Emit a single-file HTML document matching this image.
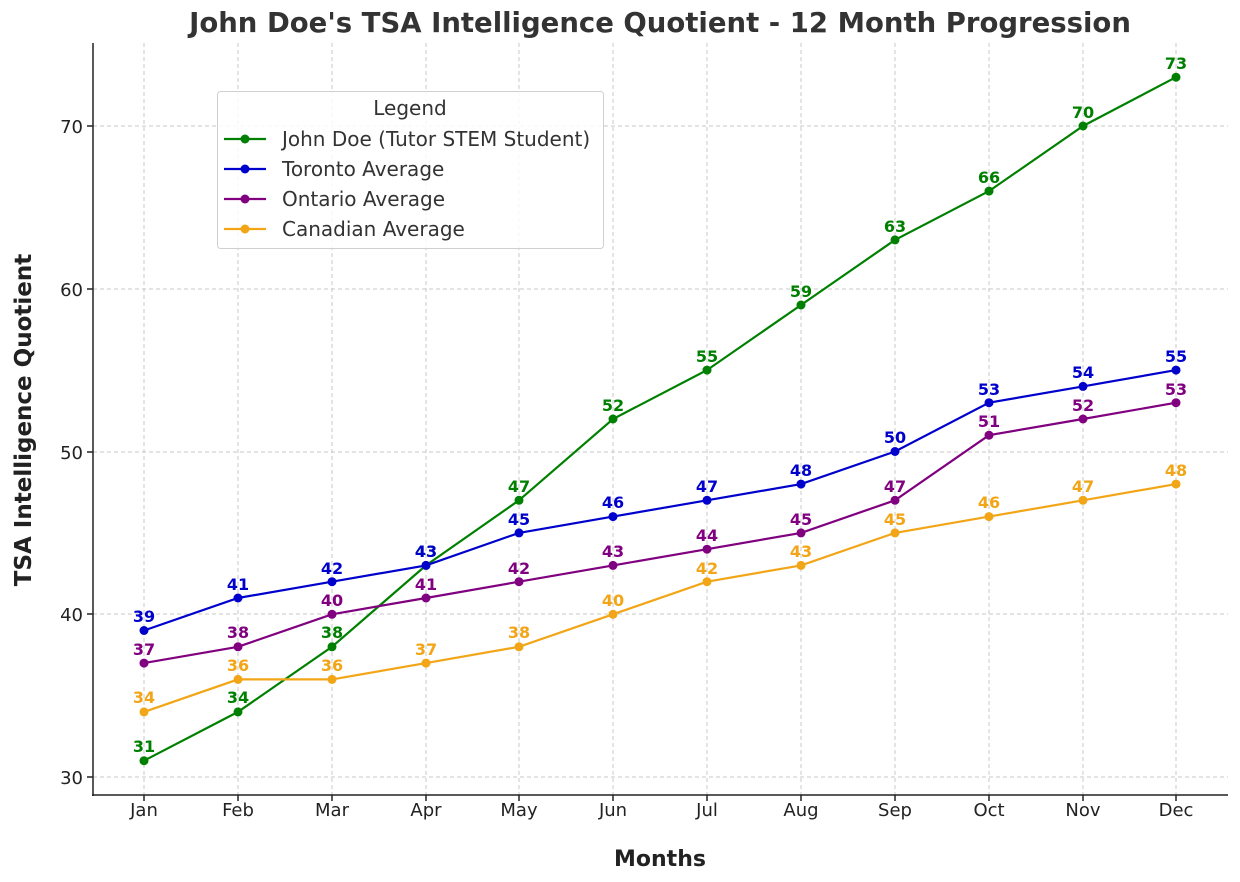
<!DOCTYPE html>
<html><head><meta charset="utf-8"><style>
html,body{margin:0;padding:0;background:#fff;}
svg{display:block;font-family:"DejaVu Sans","Liberation Sans",sans-serif;}
.t{font-size:18px;fill:#222;}
.g{stroke:#c8c8c8;stroke-width:1;stroke-dasharray:4,3;}
.lb{font-size:16px;font-weight:bold;text-anchor:middle;}
</style></head><body>
<svg width="1240" height="882" viewBox="0 0 1240 882">
<g class="g">
<line x1="144" y1="43" x2="144" y2="795"/><line x1="238" y1="43" x2="238" y2="795"/><line x1="332" y1="43" x2="332" y2="795"/><line x1="426" y1="43" x2="426" y2="795"/><line x1="519" y1="43" x2="519" y2="795"/><line x1="613" y1="43" x2="613" y2="795"/><line x1="707" y1="43" x2="707" y2="795"/><line x1="801" y1="43" x2="801" y2="795"/><line x1="895" y1="43" x2="895" y2="795"/><line x1="989" y1="43" x2="989" y2="795"/><line x1="1083" y1="43" x2="1083" y2="795"/><line x1="1176" y1="43" x2="1176" y2="795"/>
<line x1="93" y1="777" x2="1228" y2="777"/><line x1="93" y1="614" x2="1228" y2="614"/><line x1="93" y1="452" x2="1228" y2="452"/><line x1="93" y1="289" x2="1228" y2="289"/><line x1="93" y1="126" x2="1228" y2="126"/>
</g>
<line x1="93" y1="43" x2="93" y2="796" stroke="#222" stroke-width="1.5"/>
<line x1="92" y1="795" x2="1228" y2="795" stroke="#222" stroke-width="1.5"/>
<g stroke="#222" stroke-width="1.5">
<line x1="87" y1="777" x2="93" y2="777"/><line x1="87" y1="614" x2="93" y2="614"/><line x1="87" y1="452" x2="93" y2="452"/><line x1="87" y1="289" x2="93" y2="289"/><line x1="87" y1="126" x2="93" y2="126"/>
<line x1="144" y1="795" x2="144" y2="801"/><line x1="238" y1="795" x2="238" y2="801"/><line x1="332" y1="795" x2="332" y2="801"/><line x1="426" y1="795" x2="426" y2="801"/><line x1="519" y1="795" x2="519" y2="801"/><line x1="613" y1="795" x2="613" y2="801"/><line x1="707" y1="795" x2="707" y2="801"/><line x1="801" y1="795" x2="801" y2="801"/><line x1="895" y1="795" x2="895" y2="801"/><line x1="989" y1="795" x2="989" y2="801"/><line x1="1083" y1="795" x2="1083" y2="801"/><line x1="1176" y1="795" x2="1176" y2="801"/>
</g>
<g class="t" text-anchor="end">
<text x="83" y="784">30</text><text x="83" y="621">40</text><text x="83" y="459">50</text><text x="83" y="296">60</text><text x="83" y="133">70</text>
</g>
<g class="t" text-anchor="middle">
<text x="144" y="816">Jan</text><text x="238" y="816">Feb</text><text x="332" y="816">Mar</text><text x="426" y="816">Apr</text><text x="519" y="816">May</text><text x="613" y="816">Jun</text><text x="707" y="816">Jul</text><text x="801" y="816">Aug</text><text x="895" y="816">Sep</text><text x="989" y="816">Oct</text><text x="1083" y="816">Nov</text><text x="1176" y="816">Dec</text>
</g>
<text x="660" y="32" text-anchor="middle" font-size="27.5" font-weight="bold" fill="#333">John Doe's TSA Intelligence Quotient - 12 Month Progression</text>
<text x="660" y="866" text-anchor="middle" font-size="22" font-weight="bold" fill="#222">Months</text>
<text transform="translate(31,420) rotate(-90)" text-anchor="middle" font-size="23" font-weight="bold" fill="#222">TSA Intelligence Quotient</text>

<g fill="none" stroke-width="2.2">
<polyline stroke="#008000" points="144,760.7 238,711.9 332,646.8 426,565.4 519,500.3 613,419 707,370.1 801,305 895,239.9 989,191.1 1083,126 1176,77.2"/>
<polyline stroke="#0000cd" points="144,630.5 238,598 332,581.7 426,565.4 519,532.9 613,516.6 707,500.3 801,484.1 895,451.5 989,402.7 1083,386.4 1176,370.1"/>
<polyline stroke="#800080" points="144,663.1 238,646.8 332,614.3 426,598 519,581.7 613,565.4 707,549.2 801,532.9 895,500.3 989,435.2 1083,419 1176,402.7"/>
<polyline stroke="#f2a516" points="144,711.9 238,679.4 332,679.4 426,663.1 519,646.8 613,614.3 707,581.7 801,565.4 895,532.9 989,516.6 1083,500.3 1176,484.1"/>
</g>
<g fill="#008000"><circle cx="144" cy="760.7" r="4.5"/><circle cx="238" cy="711.9" r="4.5"/><circle cx="332" cy="646.8" r="4.5"/><circle cx="426" cy="565.4" r="4.5"/><circle cx="519" cy="500.3" r="4.5"/><circle cx="613" cy="419" r="4.5"/><circle cx="707" cy="370.1" r="4.5"/><circle cx="801" cy="305" r="4.5"/><circle cx="895" cy="239.9" r="4.5"/><circle cx="989" cy="191.1" r="4.5"/><circle cx="1083" cy="126" r="4.5"/><circle cx="1176" cy="77.2" r="4.5"/></g>
<g fill="#0000cd"><circle cx="144" cy="630.5" r="4.5"/><circle cx="238" cy="598" r="4.5"/><circle cx="332" cy="581.7" r="4.5"/><circle cx="426" cy="565.4" r="4.5"/><circle cx="519" cy="532.9" r="4.5"/><circle cx="613" cy="516.6" r="4.5"/><circle cx="707" cy="500.3" r="4.5"/><circle cx="801" cy="484.1" r="4.5"/><circle cx="895" cy="451.5" r="4.5"/><circle cx="989" cy="402.7" r="4.5"/><circle cx="1083" cy="386.4" r="4.5"/><circle cx="1176" cy="370.1" r="4.5"/></g>
<g fill="#800080"><circle cx="144" cy="663.1" r="4.5"/><circle cx="238" cy="646.8" r="4.5"/><circle cx="332" cy="614.3" r="4.5"/><circle cx="426" cy="598" r="4.5"/><circle cx="519" cy="581.7" r="4.5"/><circle cx="613" cy="565.4" r="4.5"/><circle cx="707" cy="549.2" r="4.5"/><circle cx="801" cy="532.9" r="4.5"/><circle cx="895" cy="500.3" r="4.5"/><circle cx="989" cy="435.2" r="4.5"/><circle cx="1083" cy="419" r="4.5"/><circle cx="1176" cy="402.7" r="4.5"/></g>
<g fill="#f2a516"><circle cx="144" cy="711.9" r="4.5"/><circle cx="238" cy="679.4" r="4.5"/><circle cx="332" cy="679.4" r="4.5"/><circle cx="426" cy="663.1" r="4.5"/><circle cx="519" cy="646.8" r="4.5"/><circle cx="613" cy="614.3" r="4.5"/><circle cx="707" cy="581.7" r="4.5"/><circle cx="801" cy="565.4" r="4.5"/><circle cx="895" cy="532.9" r="4.5"/><circle cx="989" cy="516.6" r="4.5"/><circle cx="1083" cy="500.3" r="4.5"/><circle cx="1176" cy="484.1" r="4.5"/></g>

<g class="lb" fill="#008000"><text x="144" y="752">31</text><text x="238" y="703">34</text><text x="332" y="638">38</text><text x="426" y="557">43</text><text x="519" y="492">47</text><text x="613" y="411">52</text><text x="707" y="362">55</text><text x="801" y="297">59</text><text x="895" y="232">63</text><text x="989" y="183">66</text><text x="1083" y="118">70</text><text x="1176" y="69">73</text></g>
<g class="lb" fill="#0000cd"><text x="144" y="622">39</text><text x="238" y="590">41</text><text x="332" y="574">42</text><text x="426" y="557">43</text><text x="519" y="525">45</text><text x="613" y="508">46</text><text x="707" y="492">47</text><text x="801" y="476">48</text><text x="895" y="443">50</text><text x="989" y="395">53</text><text x="1083" y="378">54</text><text x="1176" y="362">55</text></g>
<g class="lb" fill="#800080"><text x="144" y="655">37</text><text x="238" y="638">38</text><text x="332" y="606">40</text><text x="426" y="590">41</text><text x="519" y="574">42</text><text x="613" y="557">43</text><text x="707" y="541">44</text><text x="801" y="525">45</text><text x="895" y="492">47</text><text x="989" y="427">51</text><text x="1083" y="411">52</text><text x="1176" y="395">53</text></g>
<g class="lb" fill="#f2a516"><text x="144" y="703">34</text><text x="238" y="671">36</text><text x="332" y="671">36</text><text x="426" y="655">37</text><text x="519" y="638">38</text><text x="613" y="606">40</text><text x="707" y="574">42</text><text x="801" y="557">43</text><text x="895" y="525">45</text><text x="989" y="508">46</text><text x="1083" y="492">47</text><text x="1176" y="476">48</text></g>

<rect x="217.5" y="91.5" width="386" height="157" rx="3" fill="#fff" fill-opacity="0.85" stroke="#d0d0d0"/>
<text x="410" y="115" text-anchor="middle" font-size="20" fill="#333">Legend</text>
<g stroke-width="2.2">
<line x1="224" y1="139" x2="266" y2="139" stroke="#008000"/><circle cx="245" cy="139" r="4.5" fill="#008000"/>
<line x1="224" y1="169" x2="266" y2="169" stroke="#0000cd"/><circle cx="245" cy="169" r="4.5" fill="#0000cd"/>
<line x1="224" y1="199" x2="266" y2="199" stroke="#800080"/><circle cx="245" cy="199" r="4.5" fill="#800080"/>
<line x1="224" y1="229" x2="266" y2="229" stroke="#f2a516"/><circle cx="245" cy="229" r="4.5" fill="#f2a516"/>
</g>
<g font-size="20" fill="#333">
<text x="282" y="146">John Doe (Tutor STEM Student)</text>
<text x="282" y="176">Toronto Average</text>
<text x="282" y="206">Ontario Average</text>
<text x="282" y="236">Canadian Average</text>
</g>
</svg>
</body></html>
